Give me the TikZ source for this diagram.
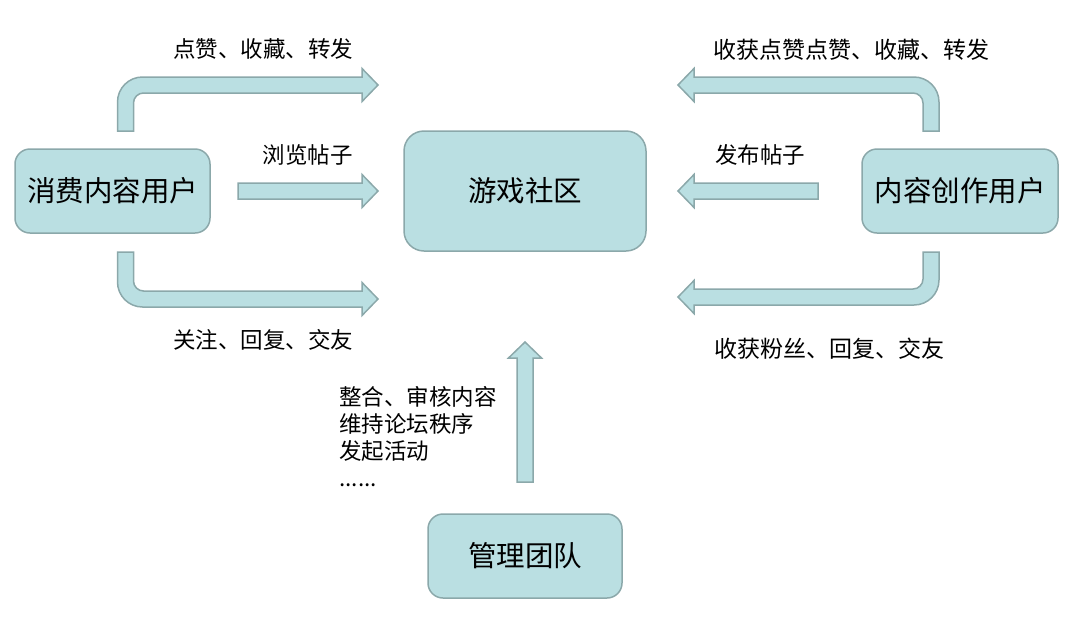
\documentclass[tikz,border=0pt]{standalone}
\usepackage{fontspec}
\setmainfont{Noto Sans CJK SC}
\usetikzlibrary{positioning,calc}
\definecolor{Teal}{HTML}{BADFE2}
\definecolor{Edge}{HTML}{8BA8AA}

\begin{document}
\begin{tikzpicture}[x=0.5pt, y=-0.5pt,
  box/.style={draw=Edge, line width=.75pt, fill=Teal, rounded corners=7.5pt, minimum width=97.5pt, minimum height=42pt, align=center, font=\fontsize{14.25}{16}\selectfont},
  barrow/.style={draw=Edge, line width=.75pt, fill=Teal, line join=miter},
  lbl/.style={inner sep=0pt, font=\fontsize{11.25}{13.5}\selectfont},
  rlbl/.style={inner sep=0pt, font=\fontsize{11.5}{14}\selectfont}]
\useasboundingbox (0,0) rectangle (1091,622);

\node[box] (cons) at (112.5,191) {消费内容用户};
\node[box, minimum width=121pt, minimum height=60pt, rounded corners=10pt] (comm) at (525,191) {游戏社区};
\node[box, minimum width=98pt] (crea) at (960,191) {内容创作用户};
\node[box, minimum width=97pt] (admin) at (525,556) {管理团队};

% consumer side
\draw[barrow] (117.5,131) [rounded corners=12.5pt] -- (117.5,77) [sharp corners] -- (362,77) -- (362,68.5) -- (378,85) -- (362,101.5) -- (362,93) [rounded corners=5pt] -- (133.5,93) [sharp corners] -- (133.5,131) -- cycle;
\draw[barrow] (238,183) -- (362,183) -- (362,174.5) -- (378,191) -- (362,207.5) -- (362,199) -- (238,199) -- cycle;
\draw[barrow] (117.5,252) [rounded corners=12.5pt] -- (117.5,307) [sharp corners] -- (362,307) -- (362,315.5) -- (378,299) -- (362,282.5) -- (362,291) [rounded corners=5pt] -- (133.5,291) [sharp corners] -- (133.5,252) -- cycle;

% creator side
\draw[barrow] (939,131) [rounded corners=12.5pt] -- (939,77) [sharp corners] -- (694,77) -- (694,68.5) -- (678,85) -- (694,101.5) -- (694,93) [rounded corners=5pt] -- (923,93) [sharp corners] -- (923,131) -- cycle;
\draw[barrow] (818,183) -- (694,183) -- (694,174.5) -- (678,191) -- (694,207.5) -- (694,199) -- (818,199) -- cycle;
\draw[barrow] (939,252) [rounded corners=12.5pt] -- (939,305) [sharp corners] -- (694,305) -- (694,313.5) -- (678,297) -- (694,280.5) -- (694,289) [rounded corners=5pt] -- (923,289) [sharp corners] -- (923,252) -- cycle;

% admin
\draw[barrow] (517,482) -- (517,358) -- (508.5,358) -- (525,342) -- (541.5,358) -- (533,358) -- (533,482) -- cycle;

\node[lbl] (like) at (263,49) {点赞、收藏、转发};
\node[lbl] (browse) at (307.5,155) {浏览帖子};
\node[lbl] (follow) at (263,340) {关注、回复、交友};
\node[rlbl] (gain) at (851.5,50) {收获点赞点赞、收藏、转发};
\node[lbl] (post) at (760,155) {发布帖子};
\node[rlbl] (fans) at (829,349) {收获粉丝、回复、交友};
\node[lbl, anchor=west, align=left] (tasks) at (339,436.5) {整合、审核内容\\维持论坛秩序\\发起活动\\......};
\end{tikzpicture}
\end{document}
